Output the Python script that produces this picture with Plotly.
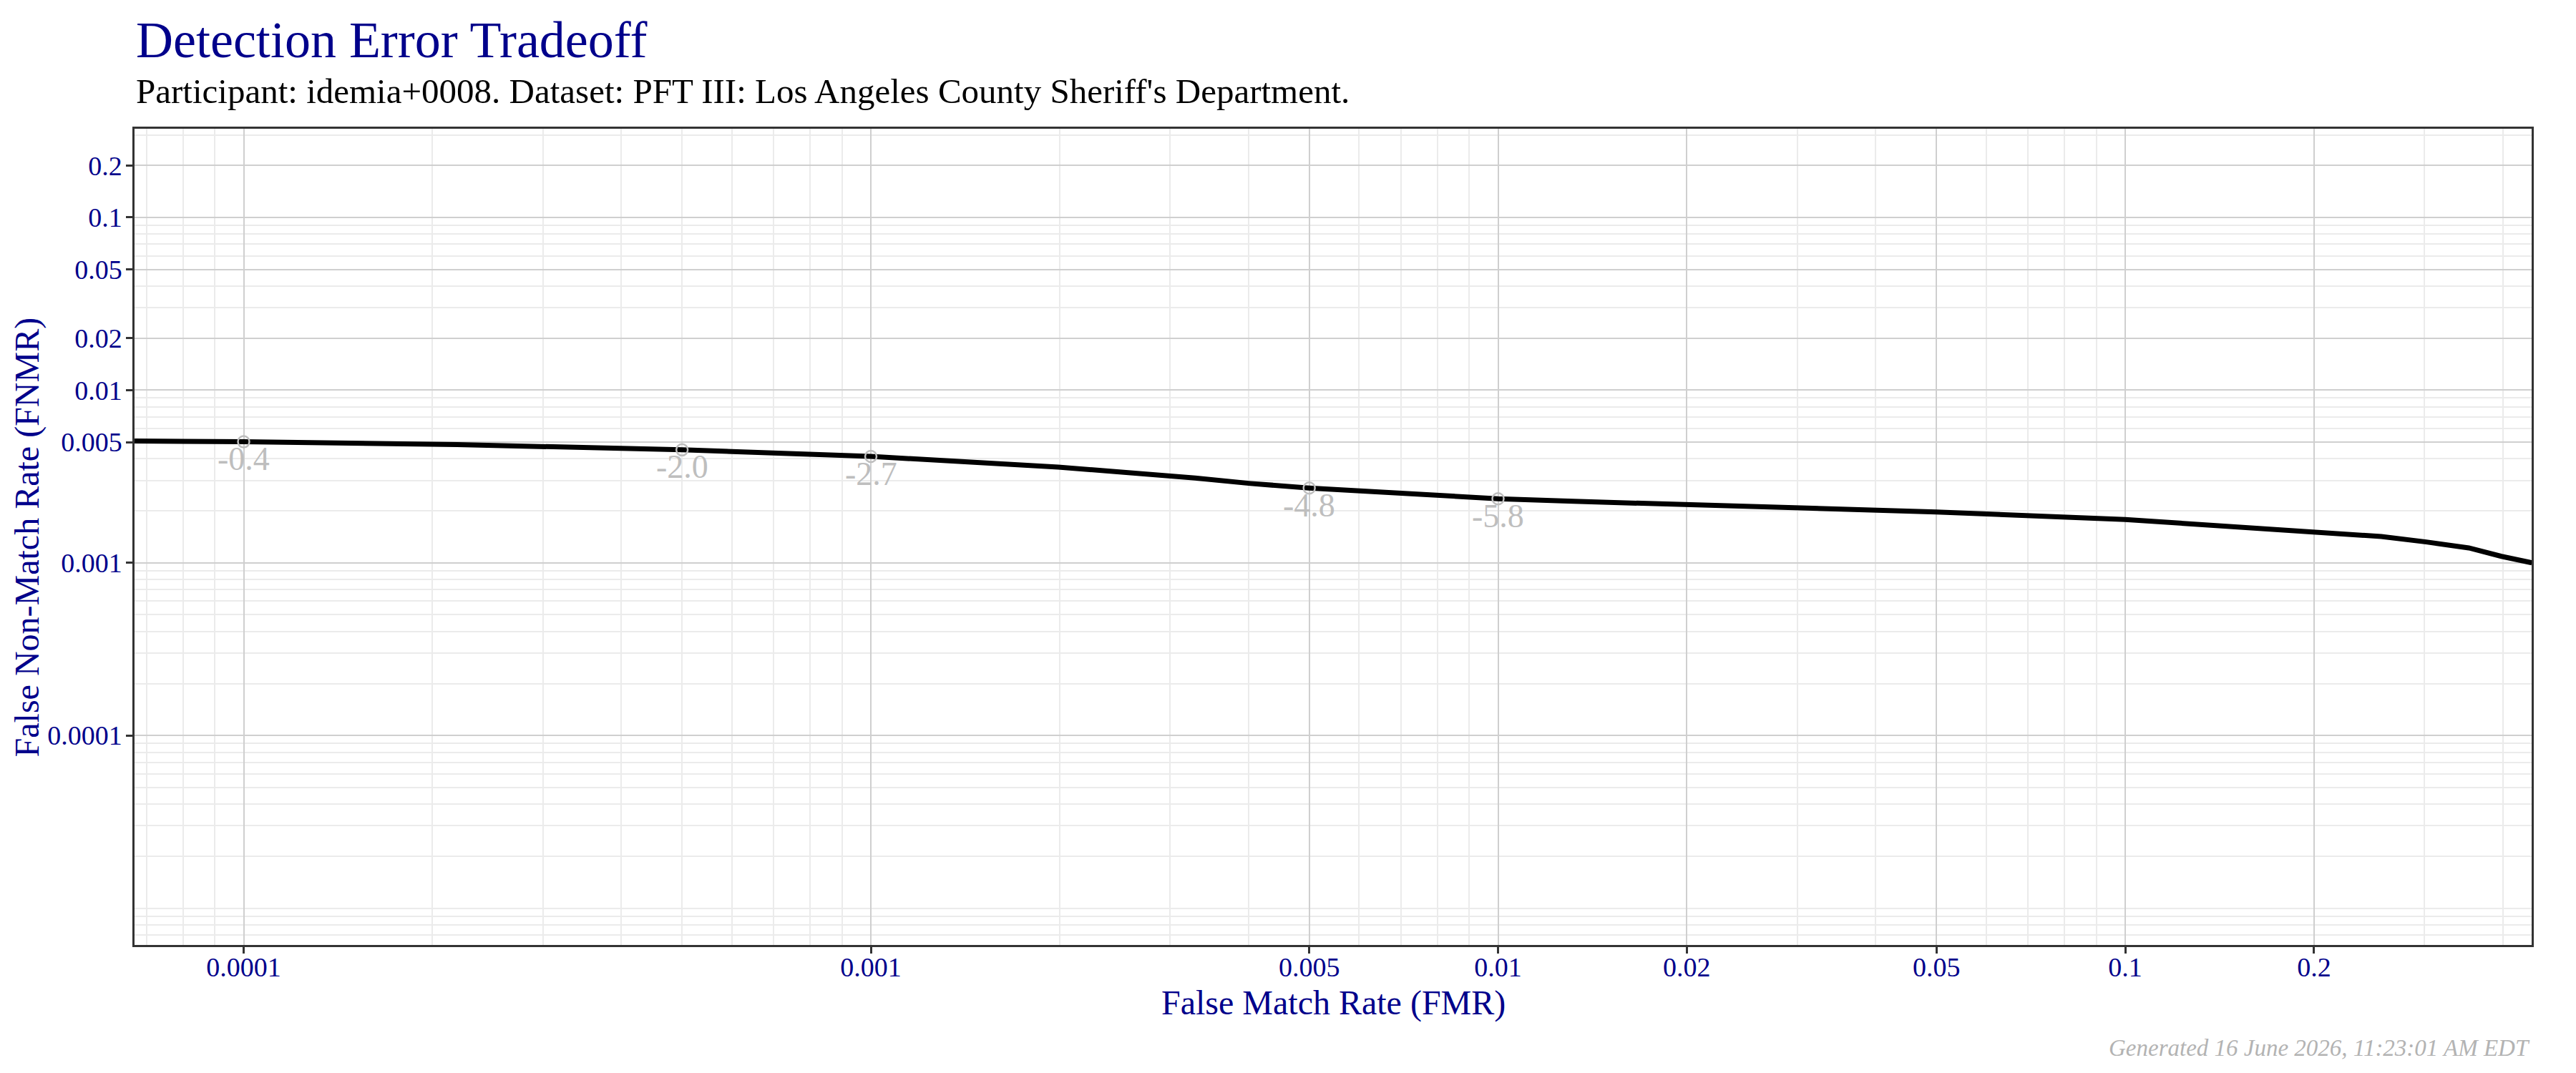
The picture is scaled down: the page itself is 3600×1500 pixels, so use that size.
import math
import plotly.graph_objects as go

# DET curve (FMR on x, FNMR on y)
fmr = [6.7e-05, 1.0e-04, 2.19e-04, 5.0e-04, 1.0e-03, 1.535e-03, 1.99e-03, 3.29e-03,
       4.03e-03, 5.0e-03, 6.27e-03, 1.0e-02, 1.32e-02, 1.99e-02, 2.91e-02, 3.59e-02,
       5.0e-02, 1.0e-01, 2.0e-01, 2.56e-01, 3.02e-01, 3.53e-01, 3.98e-01, 4.45e-01]
fnmr = [0.00507, 0.00502, 0.00484, 0.00451, 0.00413, 0.00379, 0.00358, 0.00310,
        0.00288, 0.00271, 0.00259, 0.00235, 0.00227, 0.00217, 0.00208, 0.00204,
        0.00197, 0.00178, 0.00152, 0.00142, 0.00132, 0.00122, 0.00109, 0.00100]

# threshold markers along the curve
thr_fmr = [1e-4, 5e-4, 1e-3, 5e-3, 1e-2]
thr_fnmr = [0.00502, 0.00451, 0.00413, 0.00271, 0.00235]
thr_labels = ["-0.4", "-2.0", "-2.7", "-4.8", "-5.8"]

x_ticks = [0.0001, 0.001, 0.005, 0.01, 0.02, 0.05, 0.1, 0.2]
x_ticktext = ["0.0001", "0.001", "0.005", "0.01", "0.02", "0.05", "0.1", "0.2"]
y_ticks = [0.0001, 0.001, 0.005, 0.01, 0.02, 0.05, 0.1, 0.2]
y_ticktext = ["0.0001", "0.001", "0.005", "0.01", "0.02", "0.05", "0.1", "0.2"]

title = "Detection Error Tradeoff"
subtitle = "Participant: idemia+0008. Dataset: PFT III: Los Angeles County Sheriff's Department."
footer = "Generated 16 June 2026, 11:23:01 AM EDT"

FONT = "Palatino Linotype, Book Antiqua, Palatino, Liberation Serif, serif"
BLUE = "#00008B"


def minor_vals(majors):
    vals = []
    for d in range(-7, 1):
        for k in range(1, 10):
            v = round(k * 10 ** d, 10)
            if all(abs(v - m) > 1e-12 for m in majors):
                vals.append(v)
    return vals


fig = go.Figure()

fig.add_trace(go.Scatter(
    x=fmr, y=fnmr, mode="lines",
    line=dict(color="black", width=7),
    hoverinfo="skip", showlegend=False,
))

fig.add_trace(go.Scatter(
    x=thr_fmr, y=thr_fnmr, mode="markers",
    marker=dict(symbol="circle-open", size=16, color="#BEBEBE", line=dict(width=2.5, color="#BEBEBE")),
    showlegend=False,
))

# annotations on log axes take log10 coordinates
for xv, yv, lab in zip(thr_fmr, thr_fnmr, thr_labels):
    fig.add_annotation(
        x=math.log10(xv), y=math.log10(yv), xref="x", yref="y",
        text=lab, showarrow=False, yanchor="middle", yshift=-24,
        font=dict(family=FONT, size=46, color="#BEBEBE"),
    )

axis_common = dict(
    type="log",
    showline=True, mirror=True, linecolor="#333333", linewidth=2.5,
    ticks="outside", ticklen=9, tickwidth=3, tickcolor="#333333",
    tickfont=dict(family=FONT, size=38, color=BLUE),
    showgrid=True, gridcolor="#CFCFCF", gridwidth=2,
    zeroline=False,
)

fig.update_xaxes(
    **axis_common,
    range=[-4.174, -0.352],
    tickmode="array", tickvals=x_ticks, ticktext=x_ticktext,
    ticklabelstandoff=-13,
    minor=dict(tickvals=minor_vals(x_ticks), showgrid=True, gridcolor="#EBEBEB", gridwidth=1.5, ticks=""),
)
fig.update_yaxes(
    **axis_common,
    range=[-5.213, -0.4866],
    tickmode="array", tickvals=y_ticks, ticktext=y_ticktext,
    ticklabelstandoff=-2,
    minor=dict(tickvals=minor_vals(y_ticks), showgrid=True, gridcolor="#EBEBEB", gridwidth=1.5, ticks=""),
)

# titles, axis labels and footer
fig.add_annotation(text=title, xref="paper", yref="paper", x=0, y=1.1087,
                   xanchor="left", yanchor="middle", showarrow=False,
                   font=dict(family=FONT, size=72, color=BLUE))
fig.add_annotation(text=subtitle, xref="paper", yref="paper", x=0, y=1.0462,
                   xanchor="left", yanchor="middle", showarrow=False,
                   font=dict(family=FONT, size=49, color="black"))
fig.add_annotation(text="False Match Rate (FMR)", xref="paper", yref="paper", x=0.5, y=-0.071,
                   xanchor="center", yanchor="middle", showarrow=False,
                   font=dict(family=FONT, size=48, color=BLUE))
fig.add_annotation(text="False Non-Match Rate (FNMR)", xref="paper", yref="paper", x=-0.0448, y=0.5,
                   xanchor="center", yanchor="middle", showarrow=False, textangle=-90,
                   borderpad=0,
                   font=dict(family=FONT, size=48, color=BLUE))
fig.add_annotation(text="<i>" + footer + "</i>", xref="paper", yref="paper", x=1.0, y=-0.1266,
                   xanchor="right", yanchor="middle", showarrow=False,
                   font=dict(family=FONT, size=33, color="#B3B3B3"))

# page body adds an 8px offset, so the figure is drawn 8px smaller
fig.update_layout(
    width=3592, height=1492,
    margin=dict(l=180, r=62, t=172, b=179),
    paper_bgcolor="white", plot_bgcolor="white",
    showlegend=False,
    font=dict(family=FONT),
)

fig.write_html("out.html")
